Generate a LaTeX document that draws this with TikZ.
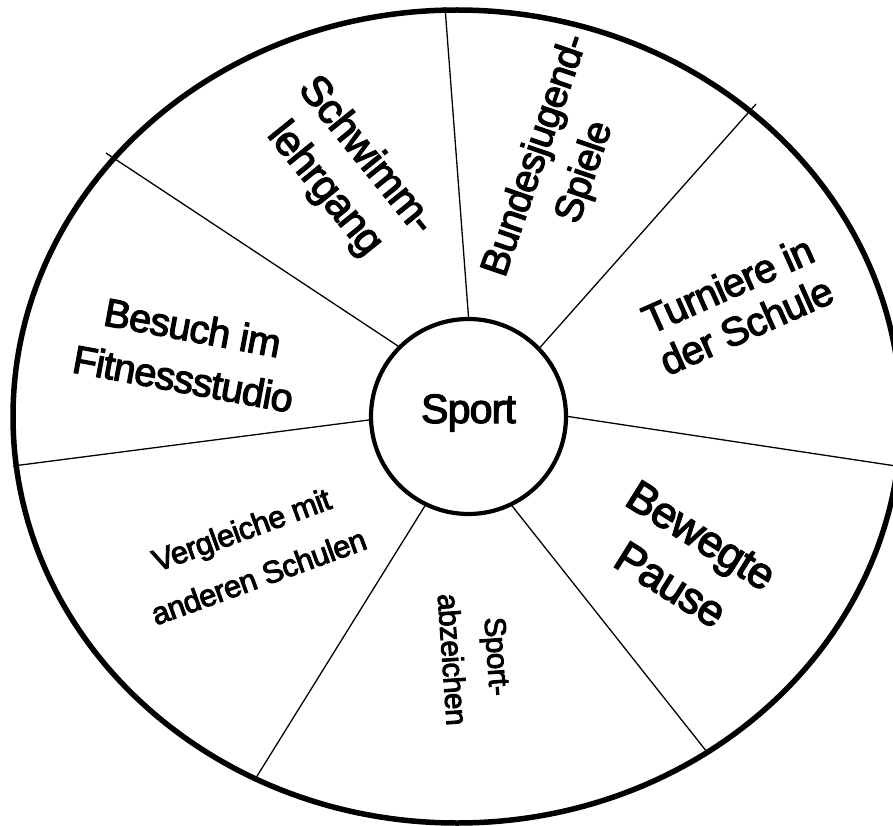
\documentclass[tikz,border=0pt]{standalone}
\usepackage{fontspec}
\setmainfont{Liberation Sans}
\newfontfamily\heavy{Liberation Sans}[FakeBold=3, LetterSpace=-2]
\begin{document}
\begin{tikzpicture}[x=1pt,y=-1pt,
  spoke/.style={line width=1.3pt},
  lbl/.style={align=center, inner sep=0pt}]
\useasboundingbox (0,0) rectangle (893,826);
\clip (0,0) rectangle (893,826);
% outer rim
\draw[line width=5.5pt] (457,416.5) ellipse [x radius=444, y radius=406.5];
% hub
\node[circle, draw, line width=4.2pt, minimum size=195pt, inner sep=0pt] (hub) at (468.5,416.5) {};
\node[anchor=base, inner sep=0pt, font=\heavy\fontsize{41}{46}\selectfont] (sport) at (468.5,423) {Sport};
% outer ends of spokes
\coordinate (o1) at (106,153);
\coordinate (o2) at (445,7);
\coordinate (o3) at (756,104);
\coordinate (o4) at (896,466);
\coordinate (o5) at (707,752);
\coordinate (o6) at (254,781);
\coordinate (o7) at (13,466);
\draw[spoke] (hub.135.4) -- (o1);
\draw[spoke] (hub.90.9) -- (o2);
\draw[spoke] (hub.44.2) -- (o3);
\draw[spoke] (hub.-0.9) -- (o4);
\draw[spoke] (hub.-64.3) -- (o5);
\draw[spoke] (hub.-116.7) -- (o6);
\draw[spoke] (hub.182) -- (o7);
% labels
\node[lbl, rotate=-51, font=\heavy\fontsize{42}{53}\selectfont] (schwimm) at (345,173) {Schwimm-\\lehrgang};
\node[lbl, rotate=71, font=\heavy\fontsize{39}{52}\selectfont] (bundes) at (561,164) {Bundesjugend-\\Spiele};
\node[lbl, rotate=24, font=\heavy\fontsize{40}{45}\selectfont] (turniere) at (737,305) {Turniere in\\der Schule};
\node[lbl, rotate=-10.5, font=\heavy\fontsize{39.5}{52}\selectfont] (besuch) at (188,353) {Besuch im\\Fitnessstudio};
\node[lbl, rotate=20, font=\heavy\fontsize{31}{50}\selectfont] (vergleiche) at (250,553) {Vergleiche mit\\anderen Schulen};
\node[lbl, rotate=-86, font=\heavy\fontsize{30}{45}\selectfont] (abzeichen) at (475,658) {Sport-\\abzeichen};
\node[lbl, rotate=-32, font=\heavy\fontsize{44}{58}\selectfont] (bewegte) at (686,560) {Bewegte\\Pause};
\end{tikzpicture}
\end{document}
